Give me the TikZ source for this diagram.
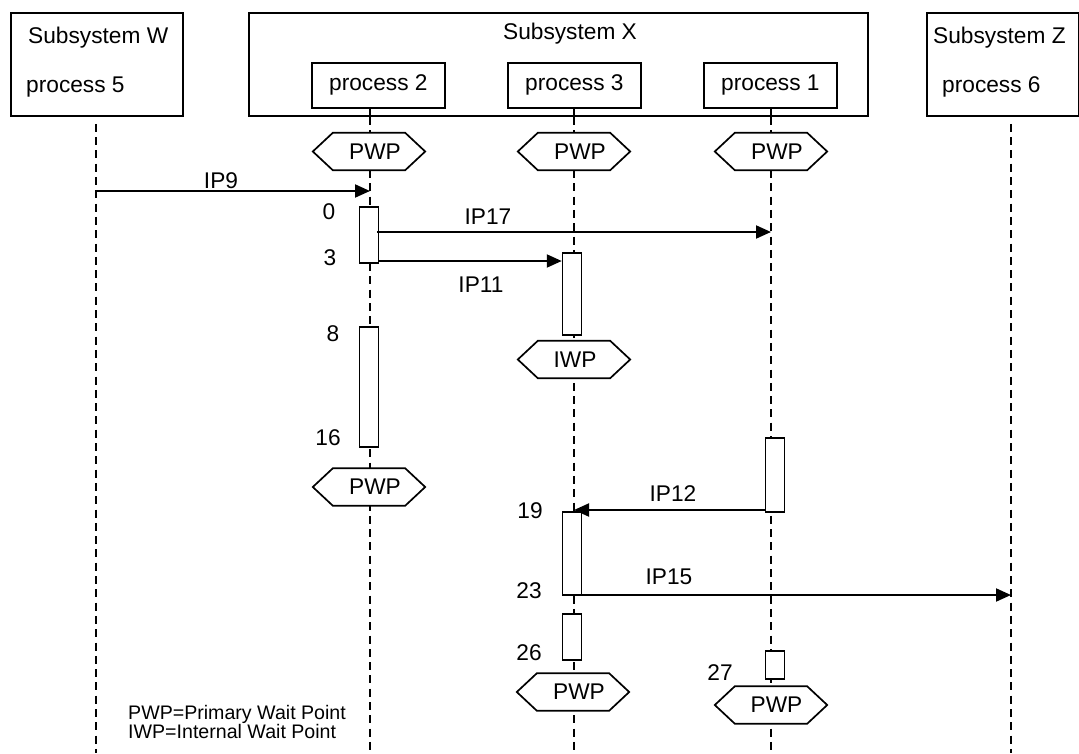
\documentclass[tikz,border=0pt]{standalone}
\usepackage{fontspec}
\setmainfont{Liberation Sans}
\usetikzlibrary{arrows.meta}
\pgfdeclarelayer{lines}
\pgfdeclarelayer{shapes}
\pgfsetlayers{lines,shapes,main}
\begin{document}
\begin{tikzpicture}[x=1pt,y=-1pt,
  font=\fontsize{22.7}{26}\selectfont,
  box/.style={draw,line width=1.8pt,inner sep=0pt,anchor=north west},
  life/.style={line width=2pt,dash pattern=on 8pt off 5.3pt},
  bar/.style={draw,line width=1.5pt,fill=white,inner sep=0pt,minimum width=19pt},
  hexn/.style={inner sep=0pt,minimum width=112pt,minimum height=37pt},
  hexline/.style={line width=1.7pt,fill=white,line join=miter},
  msg/.style={line width=2pt,-{Triangle[length=15pt,width=13pt]}},
  lbl/.style={inner sep=0pt},
  legend/.style={inner sep=0pt,anchor=base west,font=\fontsize{19.6}{22}\selectfont}]
\useasboundingbox (0,0) rectangle (1079,753);

% subsystem boxes
\node[box,minimum width=172pt,minimum height=103pt] (W) at (10,12) {};
\node[box,minimum width=619pt,minimum height=103pt] (X) at (248,12) {};
\node[box,minimum width=152pt,minimum height=103pt] (Z) at (926,12) {};
\node[lbl,anchor=base west] (tW) at (28,43) {Subsystem W};
\node[lbl,anchor=base west] (t5) at (26,92) {process 5};
\node[lbl,anchor=base] (tX) at (570,39) {Subsystem X};
\node[lbl,anchor=base west] (tZ) at (933,43) {Subsystem Z};
\node[lbl,anchor=base west] (t6) at (942,92) {process 6};

% process boxes
\node[box,minimum width=133pt,minimum height=45pt] (pb2) at (311,62) {process 2};
\node[box,minimum width=133pt,minimum height=45pt] (pb3) at (507,62) {process 3};
\node[box,minimum width=133pt,minimum height=45pt] (pb1) at (703,62) {process 1};

% lifeline ends
\coordinate (eW) at (96,753);
\coordinate (eP2) at (370,753);
\coordinate (eP3) at (574,753);
\coordinate (eP1) at (771,753);
\coordinate (eZ) at (1011,753);

\begin{pgfonlayer}{lines}
\draw[life] (eW |- W.south) ++(0,7) -- (eW);
\draw[line width=1.7pt] (eP2 |- pb2.south) -- (eP2 |- X.south);
\draw[life] (eP2 |- X.south) -- (eP2);
\draw[line width=1.7pt] (eP3 |- pb3.south) -- (eP3 |- X.south);
\draw[life] (eP3 |- X.south) -- (eP3);
\draw[line width=1.7pt] (eP1 |- pb1.south) -- (eP1 |- X.south);
\draw[life,line width=2.7pt] (eP1 |- X.south) -- (eP1);
\draw[life] (eZ |- Z.south) ++(0,7) -- (eZ);
\end{pgfonlayer}

% wait point hexagons
\node[hexn] (h2a) at (369,151.5) {\hspace*{12pt}PWP};
\node[hexn] (h3a) at (574,151.5) {\hspace*{12pt}PWP};
\node[hexn] (h1a) at (771,151.5) {\hspace*{12pt}PWP};
\node[hexn] (iwp) at (574,359.5) {\hspace*{2pt}IWP};
\node[hexn] (h2b) at (369,487) {\hspace*{12pt}PWP};
\node[hexn] (h3b) at (573,692) {\hspace*{12pt}PWP};
\node[hexn] (h1b) at (771,705) {\hspace*{11pt}PWP};
\begin{pgfonlayer}{shapes}
\foreach \h in {h2a,h3a,h1a,iwp,h2b,h3b,h1b}{
  \filldraw[hexline] (\h.west) -- ([xshift=20pt]\h.north west) -- ([xshift=-20pt]\h.north east)
    -- (\h.east) -- ([xshift=-20pt]\h.south east) -- ([xshift=20pt]\h.south west) -- cycle;
}
\end{pgfonlayer}

% activation bars
\node[bar,minimum height=56pt] (b21) at (369,235) {};
\node[bar,minimum height=120pt] (b22) at (369,387) {};
\node[bar,minimum height=82pt] (b31) at (572,294) {};
\node[bar,minimum height=83pt] (b32) at (572,553.5) {};
\node[bar,minimum height=46pt] (b33) at (572,637) {};
\node[bar,minimum height=74pt] (b11) at (775,475) {};
\node[bar,minimum height=28pt] (b12) at (775,665) {};

% messages
\draw[msg] (eW |- 0,191) -- (eP2 |- 0,191);
\draw[msg] ([xshift=-2pt]b21.east |- 0,232) -- (eP1 |- 0,232);
\draw[msg] (b21.east |- 0,261) -- (b31.west |- 0,261);
\draw[msg] (b11.west |- 0,510) -- (eP3 |- 0,510);
\draw[msg] (b32.east |- 0,595) -- (eZ |- 0,595);

\node[lbl] (l9) at (221,181) {IP9};
\node[lbl] (l17) at (488,217) {IP17};
\node[lbl] (l11) at (481,284.5) {IP11};
\node[lbl] (l12) at (673,493.5) {IP12};
\node[lbl] (l15) at (669,577) {IP15};

% time stamps
\node[lbl] (n0) at (329,212) {0};
\node[lbl] (n3) at (330,258) {3};
\node[lbl] (n8) at (333,334) {8};
\node[lbl] (n16) at (328,438) {16};
\node[lbl] (n19) at (530,511) {19};
\node[lbl] (n23) at (529,591) {23};
\node[lbl] (n26) at (529,653) {26};
\node[lbl] (n27) at (720,673) {27};

% legend
\node[legend] (lg1) at (128,719) {PWP=Primary Wait Point};
\node[legend] (lg2) at (128,738) {IWP=Internal Wait Point};
\end{tikzpicture}
\end{document}
